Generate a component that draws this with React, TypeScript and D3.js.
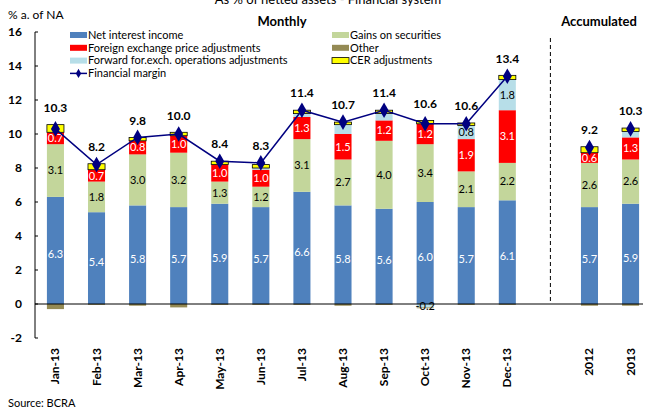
import React from 'react';
import * as d3 from 'd3';

const categories = ['Jan-13', 'Feb-13', 'Mar-13', 'Apr-13', 'May-13', 'Jun-13', 'Jul-13', 'Aug-13', 'Sep-13', 'Oct-13', 'Nov-13', 'Dec-13', '', '2012', '2013'];
const netInterest = [6.3, 5.4, 5.8, 5.7, 5.9, 5.7, 6.6, 5.8, 5.6, 6.0, 5.7, 6.1, 0, 5.7, 5.9];
const gainsSecurities = [3.1, 1.8, 3.0, 3.2, 1.3, 1.2, 3.1, 2.7, 4.0, 3.4, 2.1, 2.2, 0, 2.6, 2.6];
const fxAdjust = [0.7, 0.7, 0.8, 1.0, 1.0, 1.0, 1.3, 1.5, 1.2, 1.2, 1.9, 3.1, 0, 0.6, 1.3];
const forwardAdjust = [0, 0, 0, 0, 0, 0.1, 0.2, 0.55, 0.4, -0.2, 0.8, 1.8, 0, 0, 0.35];
const cerAdjust = [0.45, 0.35, 0.2, 0.2, 0.2, 0.2, 0.2, 0.15, 0.2, 0.2, 0.15, 0.25, 0, 0.35, 0.2];
const other = [-0.3, -0.05, -0.1, -0.2, -0.05, -0.05, -0.05, -0.1, -0.05, -0.05, -0.05, -0.05, 0, -0.1, -0.1];
const financialMargin = [10.3, 8.2, 9.8, 10.0, 8.4, 8.3, 11.4, 10.7, 11.4, 10.6, 10.6, 13.4, null, 9.2, 10.3];
const yTicks = [-2, 0, 2, 4, 6, 8, 10, 12, 14, 16];

const seriesKeys = ['nii', 'gains', 'fx', 'fwd', 'cer', 'other'];
const seriesNames: Record<string, string> = {
  nii: 'Net interest income',
  gains: 'Gains on securities',
  fx: 'Foreign exchange price adjustments',
  fwd: 'Forward for.exch. operations adjustments',
  cer: 'CER adjustments',
  other: 'Other',
};
const colors: Record<string, string> = {
  nii: '#4F81BD',
  gains: '#C3D69B',
  fx: '#FF0000',
  fwd: '#B7DEE8',
  cer: '#FFFF00',
  other: '#948A54',
};

const font = 'Lato, "DejaVu Sans", sans-serif';

export default function App() {
  const width = 645;
  const height = 410;

  const rows = categories.map((c, i) => ({
    cat: c,
    i,
    nii: netInterest[i],
    gains: gainsSecurities[i],
    fx: fxAdjust[i],
    fwd: forwardAdjust[i],
    cer: cerAdjust[i],
    other: other[i],
  }));

  const x = d3.scaleBand<number>()
    .domain(d3.range(categories.length))
    .range([35, 651])
    .paddingInner(0.585)
    .paddingOuter(0.29);

  const y = d3.scaleLinear().domain([-2, 16]).range([338, 32]);

  const stacked = d3.stack<any>()
    .keys(seriesKeys)
    .offset(d3.stackOffsetDiverging)(rows);

  const cx = (i: number) => (x(i) ?? 0) + x.bandwidth() / 2;

  const linePts = financialMargin
    .map((v, i) => ({ v, i }))
    .filter(d => d.v !== null && d.i < 12) as { v: number; i: number }[];
  const accPts = financialMargin
    .map((v, i) => ({ v, i }))
    .filter(d => d.v !== null && d.i > 12) as { v: number; i: number }[];

  const line = d3.line<{ v: number; i: number }>()
    .x(d => cx(d.i))
    .y(d => y(d.v));

  const diamond = d3.symbol().type(d3.symbolDiamond).size(70)() as string;

  const topOfStack = (i: number) => {
    let t = 0;
    stacked.forEach(s => { t = Math.max(t, s[i][1]); });
    return t;
  };

  const legendLeft = [
    { key: 'nii', type: 'rect' },
    { key: 'fx', type: 'rect' },
    { key: 'fwd', type: 'rect' },
    { key: 'margin', type: 'line' },
  ];
  const legendRight = [
    { key: 'gains', type: 'rect' },
    { key: 'other', type: 'rect' },
    { key: 'cer', type: 'rect' },
  ];

  const labelColor: Record<string, string> = { nii: '#fff', gains: '#000', fx: '#fff', fwd: '#000' };

  return (
    <svg width={width} height={height} style={{ position: 'absolute', left: 0, top: 0 }} fontFamily={font}>
      <rect width={width} height={height} fill="#fff" />
      <text x={328} y={4} textAnchor="middle" fontSize={13}>As % of netted assets - Financial system</text>
      <text x={8} y={19} fontSize={12}>% a. of NA</text>

      {/* y axis */}
      <line x1={35} x2={35} y1={y(16)} y2={y(-2)} stroke="#000" strokeWidth={1} />
      {yTicks.map(t => (
        <g key={t}>
          <line x1={35} x2={38} y1={y(t)} y2={y(t)} stroke="#000" />
          <text x={22} y={y(t)} dy="0.35em" textAnchor="end" fontSize={12} fontWeight="bold">{t}</text>
        </g>
      ))}

      {/* bars */}
      {stacked.map(s => (
        <g key={s.key} fill={colors[s.key]}>
          {s.map((d, i) => {
            const h = Math.abs(y(d[0]) - y(d[1]));
            if (h < 0.1) return null;
            return (
              <rect key={i} x={x(i)} width={x.bandwidth()} y={Math.min(y(d[0]), y(d[1]))} height={h}
                stroke={s.key === 'cer' ? '#000' : 'none'} strokeWidth={s.key === 'cer' ? 0.8 : 0} />
            );
          })}
        </g>
      ))}

      {/* zero line */}
      <line x1={35} x2={643} y1={y(0)} y2={y(0)} stroke="#000" strokeWidth={1} />

      {/* segment labels */}
      {stacked.filter(s => labelColor[s.key]).map(s => (
        <g key={s.key}>
          {s.map((d, i) => {
            const v = rows[i][s.key as 'nii'];
            if (s.key === 'fwd' && !(v >= 0.75 || v < 0)) return null;
            if (v === 0) return null;
            return (
              <text key={i} x={cx(i)} y={(y(d[0]) + y(d[1])) / 2 + (s.key === 'nii' ? 4 : 0)} dy="0.35em" textAnchor="middle"
                fontSize={11} fill={labelColor[s.key]}>
                {v.toFixed(1)}
              </text>
            );
          })}
        </g>
      ))}

      {/* dashed separator */}
      <line x1={cx(12) + 2} x2={cx(12) + 2} y1={38} y2={y(0)} stroke="#000" strokeDasharray="4,3" strokeWidth={1} />

      {/* financial margin */}
      <path d={line(linePts) ?? ''} fill="none" stroke="#000080" strokeWidth={1.5} />
      {[...linePts, ...accPts].map(d => (
        <g key={d.i}>
          <path d={diamond} transform={`translate(${cx(d.i)},${y(d.v)})`} fill="#000080" />
          <text x={cx(d.i)} y={y(Math.max(topOfStack(d.i), d.v)) - 17} dy="0.35em" textAnchor="middle" fontSize={12} fontWeight="bold">
            {d.v.toFixed(1)}
          </text>
        </g>
      ))}

      {/* x labels */}
      {categories.map((c, i) => c ? (
        <text key={i} transform={`translate(${cx(i) + 4},348) rotate(-90)`} textAnchor="end" fontSize={12} fontWeight="bold">{c}</text>
      ) : null)}

      <text x={282} y={26} textAnchor="middle" fontSize={13} fontWeight="bold">Monthly</text>
      <text x={599} y={26} textAnchor="middle" fontSize={13} fontWeight="bold">Accumulated</text>

      {/* legend */}
      {legendLeft.map((l, k) => (
        <g key={l.key} transform={`translate(70,${35 + k * 12.8})`}>
          {l.type === 'rect'
            ? <rect x={0} y={-3} width={17} height={6} fill={colors[l.key]} />
            : <g>
                <line x1={0} x2={17} y1={0} y2={0} stroke="#000080" strokeWidth={1.5} />
                <path d={d3.symbol().type(d3.symbolDiamond).size(25)() as string} transform="translate(8.5,0)" fill="#000080" />
              </g>}
          <text x={18} y={0} dy="0.35em" fontSize={11}>{l.key === 'margin' ? 'Financial margin' : seriesNames[l.key]}</text>
        </g>
      ))}
      {legendRight.map((l, k) => (
        <g key={l.key} transform={`translate(332,${35 + k * 12.8})`}>
          <rect x={0} y={-3} width={17} height={6} fill={colors[l.key]} stroke={l.key === 'cer' ? '#000' : 'none'} strokeWidth={0.8} />
          <text x={18} y={0} dy="0.35em" fontSize={11}>{seriesNames[l.key]}</text>
        </g>
      ))}

      <text x={8} y={407} fontSize={11}>Source: BCRA</text>
    </svg>
  );
}
